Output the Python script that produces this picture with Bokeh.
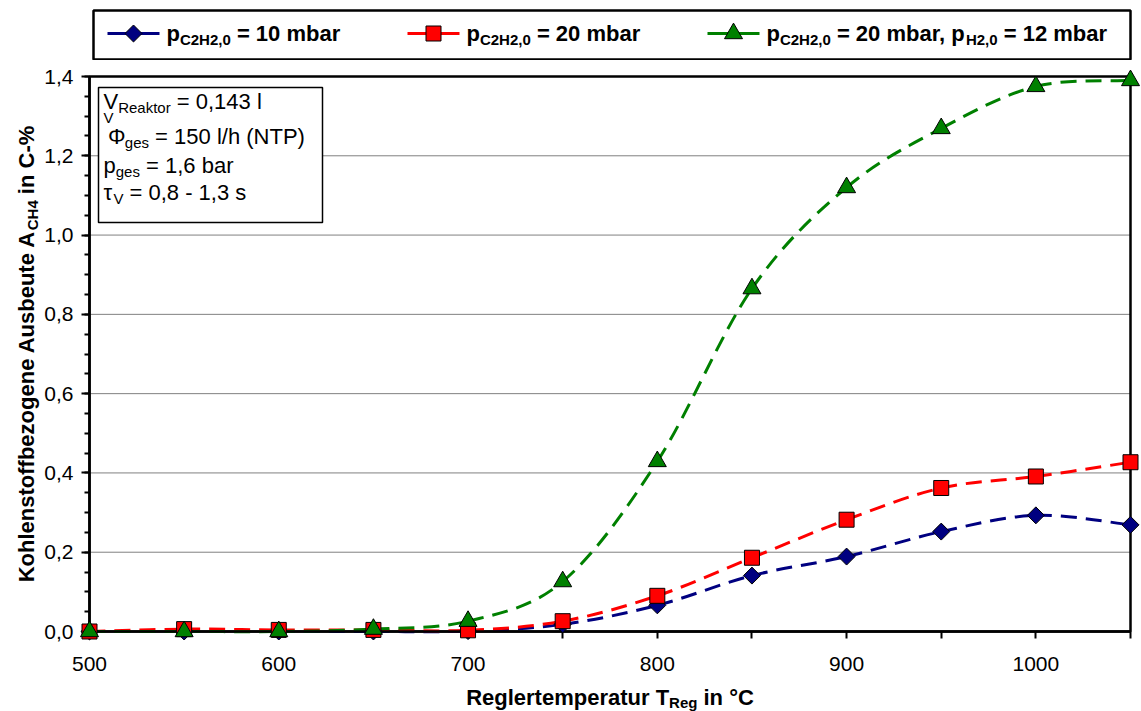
import numpy as np
from bokeh.plotting import figure
from bokeh.layouts import column
from bokeh.models import ColumnDataSource, Label, FixedTicker, CustomJSTickFormatter, Range1d
from bokeh.embed import file_html
from bokeh.resources import INLINE

# ---------------- data ----------------
temperature = [500, 550, 600, 650, 700, 750, 800, 850, 900, 950, 1000, 1050]
yield_c2h2_10 = [0.0, 0.0, 0.0, 0.0, 0.001, 0.018, 0.066, 0.141, 0.189, 0.252, 0.293, 0.269]
yield_c2h2_20 = [0.0, 0.006, 0.004, 0.004, 0.003, 0.026, 0.090, 0.186, 0.282, 0.362, 0.391, 0.427]
yield_c2h2_20_h2_12 = [0.0, 0.0, 0.0, 0.006, 0.026, 0.126, 0.429, 0.865, 1.120, 1.269, 1.375, 1.390]

y_ticks = [0.0, 0.2, 0.4, 0.6, 0.8, 1.0, 1.2, 1.4]
y_tick_labels = ["0,0", "0,2", "0,4", "0,6", "0,8", "1,0", "1,2", "1,4"]
y_minor_ticks = [0.0, 0.05, 0.1, 0.15, 0.2, 0.25, 0.3, 0.35, 0.4, 0.45, 0.5, 0.55, 0.6, 0.65, 0.7,
                 0.75, 0.8, 0.85, 0.9, 0.95, 1.0, 1.05, 1.1, 1.15, 1.2, 1.25, 1.3, 1.35, 1.4]
x_ticks = [500, 550, 600, 650, 700, 750, 800, 850, 900, 950, 1000, 1050]
x_tick_labels = ["500", "", "600", "", "700", "", "800", "", "900", "", "1000", ""]

X_MIN, X_MAX = 500, 1050
Y_MIN, Y_MAX = 0.0, 1.4

FONT = "Liberation Sans"

# ---------------- geometry (page pixels) ----------------
W, H = 1141, 711
LEG_H = 60
MAIN_H = H - LEG_H
L_PX, R_PX, T_PX, B_PX = 89, 1130, 76, 631   # plot area on the page
XPP = (X_MAX - X_MIN) / (R_PX - L_PX)
YPP = (Y_MAX - Y_MIN) / (B_PX - T_PX)
BASE_FIX = 0.33   # label anchor correction (fraction of font size)


def dx(cx):
    return X_MIN + (cx - L_PX) * XPP


def dy(cy):
    return Y_MIN + (B_PX - cy) * YPP


# ---------------- text metrics (Arial / Liberation Sans) ----------------
REG = {' ': 278, '%': 889, '(': 333, ')': 333, ',': 278, '-': 333, '.': 278, '/': 278, '=': 584,
       '°': 400, 'A': 667, 'C': 722, 'H': 722, 'N': 722, 'P': 667, 'R': 722, 'T': 611, 'V': 667,
       'a': 556, 'b': 556, 'e': 556, 'g': 556, 'h': 556, 'k': 500, 'l': 222, 'o': 556, 'p': 556,
       'r': 333, 's': 500, 't': 278, 'Φ': 764, 'τ': 450}
BOLD = {' ': 278, '%': 889, ',': 278, '-': 333, '=': 584, '°': 400, 'A': 722, 'C': 722, 'H': 722,
        'K': 722, 'R': 722, 'T': 611, 'a': 556, 'b': 611, 'e': 556, 'f': 333, 'g': 611, 'h': 611,
        'i': 278, 'l': 278, 'm': 889, 'n': 611, 'o': 611, 'p': 611, 'r': 389, 's': 556, 't': 333,
        'u': 611, 'z': 500}


def text_width(s, size, bold):
    table = BOLD if bold else REG
    return sum(table.get(ch, 556) for ch in s) * size / 1000.0


def rich(plot, parts, x0, y0, to_x, to_y, vertical=False):
    pos = y0 if vertical else x0
    for part in parts:
        text, size, bold, shift = part[:4]
        adv = part[4] if len(part) > 4 else None
        stripped = text.lstrip(" ")
        lead = text_width(text[:len(text) - len(stripped)], size, bold)
        pos = pos - lead if vertical else pos + lead
        fix = BASE_FIX * size
        if vertical:
            cx, cy = x0 + shift - fix, pos
        else:
            cx, cy = pos, y0 + shift - fix
        plot.add_layout(Label(x=to_x(cx), y=to_y(cy), text=stripped, text_font=FONT,
                              text_font_size=f"{size}px",
                              text_font_style="bold" if bold else "normal",
                              text_color="black", text_align="left",
                              text_baseline="alphabetic",
                              angle=np.pi / 2 if vertical else 0.0))
        w = text_width(stripped, size, bold) if adv is None else adv
        pos = pos - w if vertical else pos + w


def total_width(parts):
    return sum(text_width(t[0], t[1], t[2]) for t in parts)


# ---------------- series styling ----------------
series = [
    dict(y=yield_c2h2_10, color="#000080", marker="square", angle=np.pi / 4, size=12),
    dict(y=yield_c2h2_20, color="#FF0000", marker="square", angle=0.0, size=15),
    dict(y=yield_c2h2_20_h2_12, color="#008000", marker="triangle", angle=0.0, size=18),
]


def bezier_source(xs, ys):
    P = np.column_stack([np.asarray(xs, float), np.asarray(ys, float)])
    n = len(P)
    cols = {k: [] for k in ("x0", "y0", "x1", "y1", "cx0", "cy0", "cx1", "cy1")}
    for i in range(n - 1):
        p0 = P[max(i - 1, 0)]
        p1 = P[i]
        p2 = P[i + 1]
        p3 = P[min(i + 2, n - 1)]
        c1 = p1 + (p2 - p0) / 6.0
        c2 = p2 - (p3 - p1) / 6.0
        cols["x0"].append(p1[0]); cols["y0"].append(p1[1])
        cols["x1"].append(p2[0]); cols["y1"].append(p2[1])
        cols["cx0"].append(c1[0]); cols["cy0"].append(c1[1])
        cols["cx1"].append(c2[0]); cols["cy1"].append(c2[1])
    return ColumnDataSource(cols)


# ---------------- main figure (frame = whole figure; axes at fixed data locations) ----------------
p = figure(width=W, height=MAIN_H, frame_width=W, frame_height=MAIN_H,
           x_range=Range1d(dx(0), dx(W)),
           y_range=Range1d(dy(H), dy(LEG_H)),
           output_backend="svg", toolbar_location=None, tools="",
           min_border=0, min_border_left=0, min_border_right=0,
           min_border_top=0, min_border_bottom=0,
           background_fill_color="white", border_fill_color="white")
p.outline_line_color = None
p.xgrid.visible = False
p.ygrid.visible = False

# gridlines
p.segment(x0=[X_MIN] * len(y_ticks), y0=y_ticks, x1=[X_MAX] * len(y_ticks), y1=y_ticks,
          line_color="#808080", line_width=1)

# info box
p.quad(left=[dx(98)], right=[dx(322)], top=[dy(87)], bottom=[dy(222)],
       fill_color="white", line_color="black", line_width=1.5)

# plot-area border
p.quad(left=[X_MIN], right=[X_MAX], bottom=[Y_MIN], top=[Y_MAX],
       fill_color=None, line_color="black", line_width=2.5)

for s in series:
    p.bezier(x0="x0", y0="y0", x1="x1", y1="y1", cx0="cx0", cy0="cy0", cx1="cx1", cy1="cy1",
             source=bezier_source(temperature, s["y"]), line_color=s["color"], line_width=3,
             line_dash="16 9")

for s in series:
    r = p.scatter(temperature, s["y"], marker=s["marker"], angle=s["angle"], size=s["size"],
                  fill_color=s["color"], line_color="black", line_width=1)
    r.level = "overlay"

# axes
fmt_code = """
const i = tick_values.findIndex(t => Math.abs(t - tick) < 1e-9);
return i >= 0 ? tick_texts[i] : "";
"""
xa = p.xaxis[0]
xa.fixed_location = Y_MIN
xa.bounds = (X_MIN, X_MAX)
xa.ticker = FixedTicker(ticks=x_ticks, minor_ticks=[])
xa.formatter = CustomJSTickFormatter(args=dict(tick_values=x_ticks, tick_texts=x_tick_labels), code=fmt_code)
ya = p.yaxis[0]
ya.fixed_location = X_MIN
ya.bounds = (Y_MIN, Y_MAX)
ya.ticker = FixedTicker(ticks=y_ticks, minor_ticks=y_minor_ticks)
ya.formatter = CustomJSTickFormatter(args=dict(tick_values=y_ticks, tick_texts=y_tick_labels), code=fmt_code)

for ax in (xa, ya):
    ax.axis_line_color = "black"
    ax.axis_line_width = 2.5
    ax.major_tick_line_color = "black"
    ax.major_tick_line_width = 2
    ax.major_tick_in = 0
    ax.minor_tick_line_color = "black"
    ax.minor_tick_line_width = 2
    ax.minor_tick_in = 0
    ax.major_label_text_font = FONT
    ax.major_label_text_font_size = "21px"
    ax.major_label_text_color = "black"
    ax.axis_label = None
xa.major_tick_out = 7
xa.major_label_standoff = 18
ya.major_tick_out = 8
ya.minor_tick_out = 5
ya.major_label_standoff = 8

# axis titles
x_title = [("Reglertemperatur T", 22, True, 0), ("Reg", 15, True, 3), (" in °C", 22, True, 0)]
y_title = [("Kohlenstoffbezogene Ausbeute A", 22, True, 0), ("CH4", 15, True, 4), (" in C-%", 22, True, 0)]
cx_mid = (L_PX + R_PX) / 2
cy_mid = (T_PX + B_PX) / 2
rich(p, x_title, cx_mid - total_width(x_title) / 2, 704, dx, dy)
rich(p, y_title, 33, cy_mid + total_width(y_title) / 2, dx, dy, vertical=True)

# info text
info_lines = [
    [("V", 22, False, 0), ("Reaktor", 15, False, 3.5), (" = 0,143 l", 22, False, 0)],
    [("V", 15, False, -21.5, 4.5), ("Φ", 22, False, 0), ("ges", 15, False, 3.5), (" = 150 l/h (NTP)", 22, False, 0)],
    [("p", 22, False, 0), ("ges", 15, False, 3.5), (" = 1,6 bar", 22, False, 0)],
    [("τ", 22, False, 0), ("V", 15, False, 3.5), (" = 0,8 - 1,3 s", 22, False, 0)],
]
info_baselines = [108, 143, 172, 199]
for parts, base in zip(info_lines, info_baselines):
    rich(p, parts, 103, base, dx, dy)

# ---------------- legend figure (data coordinates = page pixels) ----------------
lg = figure(width=W, height=LEG_H, frame_width=W, frame_height=LEG_H,
            x_range=Range1d(0, W), y_range=Range1d(LEG_H, 0),
            x_axis_type=None, y_axis_type=None, output_backend="svg",
            toolbar_location=None, tools="", min_border=0, min_border_left=0,
            min_border_right=0, min_border_top=0, min_border_bottom=0,
            background_fill_color="white", border_fill_color="white")
lg.outline_line_color = None
lg.quad(left=[93], right=[1130], top=[10], bottom=[59], fill_color="white",
        line_color="black", line_width=2.5)

legend_texts = [
    [("p", 22, True, 0), ("C2H2,0", 15, True, 4), (" = 10 mbar", 22, True, 0)],
    [("p", 22, True, 0), ("C2H2,0", 15, True, 4), (" = 20 mbar", 22, True, 0)],
    [("p", 22, True, 0), ("C2H2,0", 15, True, 4), (" = 20 mbar, p", 22, True, 0),
     ("H2,0", 15, True, 4), (" = 12 mbar", 22, True, 0)],
]
legend_x = [107, 407, 707]
LEG_Y = 33
for s, parts, x0 in zip(series, legend_texts, legend_x):
    lg.segment(x0=[x0], y0=[LEG_Y], x1=[x0 + 52], y1=[LEG_Y], line_color=s["color"], line_width=3)
    lg.scatter([x0 + 26], [LEG_Y], marker=s["marker"], angle=s["angle"], size=s["size"],
               fill_color=s["color"], line_color="black", line_width=1)
    rich(lg, parts, x0 + 59, 40, lambda v: v, lambda v: v)

layout = column(lg, p, spacing=0)
open("out.html", "w").write(file_html(layout, INLINE))
